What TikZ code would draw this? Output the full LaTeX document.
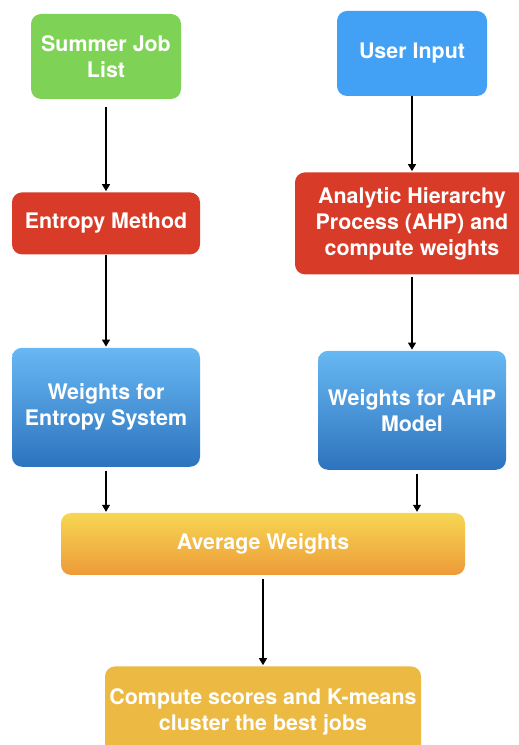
\documentclass[tikz,border=0pt]{standalone}
\usepackage{fontspec}
\setmainfont{TeX Gyre Heros}
\usetikzlibrary{positioning, arrows.meta}

\definecolor{jobgreen}{HTML}{7ED357}
\definecolor{inputblue}{HTML}{42A1F4}
\definecolor{methodred}{HTML}{D83B27}
\definecolor{weighttop}{HTML}{68B8F3}
\definecolor{weightbot}{HTML}{2D73BE}
\definecolor{avgtop}{HTML}{F6D753}
\definecolor{avgbot}{HTML}{EE9A38}
\definecolor{scoreyellow}{HTML}{ECB942}

\tikzset{
  box/.style={rectangle, rounded corners=10pt, align=center, text=white, inner sep=0pt,
    font=\fontsize{21.4}{26}\selectfont\bfseries},
  weightbox/.style={box, top color=weighttop, bottom color=weightbot,
    minimum width=188pt, minimum height=119pt},
  flow/.style={-{Triangle[length=7pt,width=8pt]}, line width=1.2pt, shorten >=1pt}
}

\begin{document}
\begin{tikzpicture}[x=1pt, y=1pt]
\useasboundingbox (0,0) rectangle (519,745);

% left branch: job list scored by the entropy method
\node[box, fill=jobgreen, minimum width=150pt, minimum height=85pt] (jobs) at (106,688.5) {Summer Job\\List};
\node[box, fill=methodred, minimum width=188pt, minimum height=62pt, below=93pt of jobs] (entropy) {Entropy Method};
\node[weightbox, below=93pt of entropy] (wentropy) {Weights for\\Entropy System};

% right branch: user preferences through AHP
\node[box, fill=inputblue, minimum width=150pt, minimum height=85pt] (user) at (412,691.5) {User Input};
\node[box, fill=methodred, minimum width=234pt, minimum height=102pt, below=76pt of user] (ahp) {Analytic Hierarchy\\Process (AHP) and\\compute weights};
\node[weightbox, below=76pt of ahp] (wahp) {Weights for AHP\\Model};

% merge and final step
\node[box, top color=avgtop, bottom color=avgbot, minimum width=404pt, minimum height=62pt] (avg) at (263,201) {Average Weights};
\node[box, fill=scoreyellow, minimum width=316pt, minimum height=92pt, below=91pt of avg] (score) {Compute scores and K-means\\cluster the best jobs};

\draw[flow, shorten <=8pt] (jobs) -- (entropy);
\draw[flow] (entropy) -- (wentropy);
\draw[flow] (user) -- (ahp);
\draw[flow, shorten <=2pt] (ahp) -- (wahp);
\draw[flow, shorten <=4pt] (wentropy.south) -- (wentropy.south |- avg.north);
\draw[flow, shorten <=4pt] ([xshift=5pt]wahp.south) -- ([xshift=5pt]wahp.south |- avg.north);
\draw[flow, shorten <=4pt] (avg) -- (score);
\end{tikzpicture}
\end{document}
